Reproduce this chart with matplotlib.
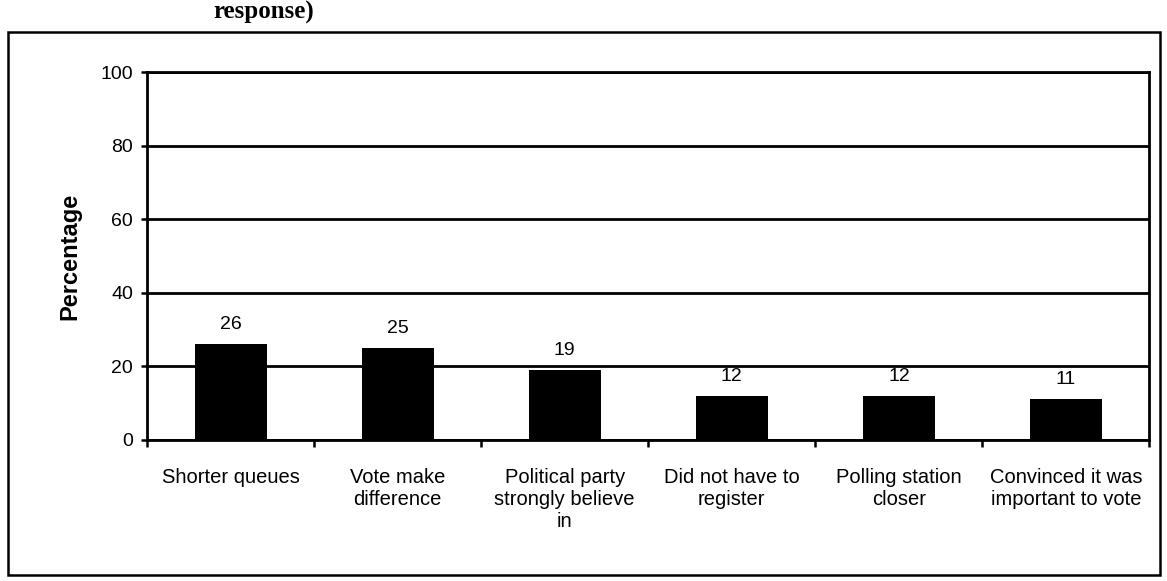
import numpy as np
import matplotlib
matplotlib.use('Agg')
import matplotlib.pyplot as plt
from matplotlib.patches import Rectangle

categories = ['Shorter queues', 'Vote make\ndifference', 'Political party\nstrongly believe\nin',
              'Did not have to\nregister', 'Polling station\ncloser', 'Convinced it was\nimportant to vote']
values = [26, 25, 19, 12, 12, 11]
y_ticks = [0, 20, 40, 60, 80, 100]

plt.rcParams['font.family'] = ['Liberation Sans', 'DejaVu Sans']

fig = plt.figure(figsize=(11.67, 5.81), dpi=100)
ax = fig.add_axes([0.126, 0.243, 0.859, 0.633])

x = np.arange(len(categories))
ax.bar(x, values, width=0.43, color='black', zorder=3)
for xi, v in zip(x, values):
    ax.text(xi, v + 3, str(v), ha='center', va='bottom', fontsize=14)

ax.set_xlim(-0.5, len(categories) - 0.5)
ax.set_ylim(0, 100)
ax.set_yticks(y_ticks)
ax.tick_params(axis='y', labelsize=14, length=4, width=1.8, direction='out', pad=6)
ax.yaxis.grid(True, color='black', linewidth=2, zorder=0)

# category labels between boundary ticks
ax.set_xticks(x)
ax.set_xticklabels(categories, fontsize=14.5, va='top', linespacing=1.2)
ax.tick_params(axis='x', length=0, pad=20)
ax.set_xticks(np.arange(len(categories) + 1) - 0.5, minor=True)
ax.tick_params(axis='x', which='minor', length=5, width=1.8, direction='out')

for s in ax.spines.values():
    s.set_linewidth(2)
    s.set_color('black')

ax.set_ylabel('Percentage', fontsize=17, fontweight='bold', labelpad=14)

# outer frame of the scanned figure
fig.patches.append(Rectangle((8 / 1167, 1 - 575 / 581), 1152 / 1167, 543 / 581,
                             transform=fig.transFigure, fill=False,
                             edgecolor='black', linewidth=1.8))

fig.text(213 / 1167, 1 - 19 / 581, 'response)', fontsize=18, fontweight='bold',
         family='Liberation Serif', ha='left', va='baseline')

fig.savefig('out.png', dpi=100)
